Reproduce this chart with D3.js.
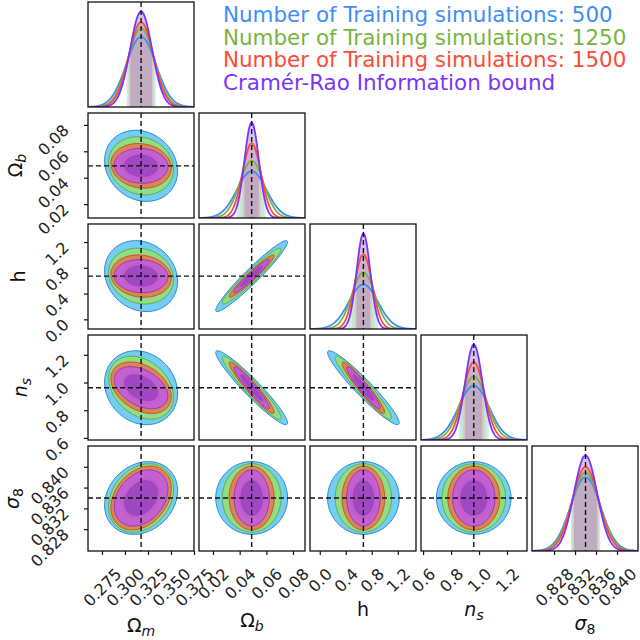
<!DOCTYPE html>
<html>
<head>
<meta charset="utf-8">
<script src="https://cdn.jsdelivr.net/npm/d3@7"></script>
<style>
body { margin: 0; background: #fff; }
svg { font-family: "DejaVu Sans", sans-serif; }
</style>
</head>
<body>
<script>
// parameters (row/column order of the corner plot)
const paramMain = ["Ω", "Ω", "h", "n", "σ"];
const paramSub = ["m", "b", "", "s", "8"];
const truth = [0.3175, 0.049, 0.6711, 0.9624, 0.834];
const domains = [[0.2598, 0.375], [0.0095, 0.089], [-0.15, 1.48], [0.585, 1.343], [0.8238, 0.844]];
const tickValues = [
    [0.275, 0.300, 0.325, 0.350, 0.375],
    [0.02, 0.04, 0.06, 0.08],
    [0.0, 0.4, 0.8, 1.2],
    [0.6, 0.8, 1.0, 1.2],
    [0.828, 0.832, 0.836, 0.840]
];
const tickFormats = [".3f", ".2f", ".1f", ".1f", ".3f"];

// runs: 1-sigma widths per parameter
const runNames = [
    "Number of Training simulations: 500",
    "Number of Training simulations: 1250",
    "Number of Training simulations: 1500",
    "Cramér-Rao Information bound"
];
const sigma500 = [0.0162, 0.0110, 0.225, 0.109, 0.00286];
const sigma1250 = [0.0144, 0.0090, 0.177, 0.093, 0.00269];
const sigma1500 = [0.0134, 0.0069, 0.134, 0.076, 0.00251];
const sigmaCRB = [0.0119, 0.0054, 0.105, 0.062, 0.00221];

// correlation for each lower-triangle pair [row, col]
const pairs = [[1, 0], [2, 0], [2, 1], [3, 0], [3, 1], [3, 2], [4, 0], [4, 1], [4, 2], [4, 3]];
const rho500 = [-0.15, -0.15, 0.96, -0.15, -0.95, -0.95, 0.20, 0, 0, 0];
const rho1250 = [-0.12, -0.12, 0.96, -0.30, -0.95, -0.95, 0.25, 0, 0, 0];
const rho1500 = [-0.10, -0.10, 0.96, -0.35, -0.95, -0.95, 0.30, 0, 0, 0];
const rhoCRB = [-0.05, -0.05, 0.96, -0.40, -0.95, -0.95, 0.30, 0, 0, 0];

const runs = [
    {sigma: sigma500, rho: rho500, line: "#3f8ef7", c95: "#5cc6f2", c68: "#3b8fd6", edge: "#2b88c4", band: "#a6d8f2"},
    {sigma: sigma1250, rho: rho1250, line: "#79b443", c95: "#94e070", c68: "#5eb24a", edge: "#66aa44", band: "#c2dfa8"},
    {sigma: sigma1500, rho: rho1500, line: "#fd4b36", c95: "#ec7448", c68: "#cc4a2c", edge: "#c9502e", band: "#e8b0a8"},
    {sigma: sigmaCRB, rho: rhoCRB, line: "#7a35fb", c95: "#c05ae8", c68: "#7d32b6", edge: "#8a3cc4", band: "#a88cc8"}
];

const width = 640, height = 640;
const padLeft = 88, padTop = 2, cellW = 106, cellH = 105, pitch = 111;
const n = truth.length;

const svg = d3.select("body").append("svg")
    .attr("width", width)
    .attr("height", height);

const defs = svg.append("defs");

function ellipsePoints(mx, my, sx, sy, rho, r) {
    return d3.range(0, 121).map(k => {
        const t = k / 120 * 2 * Math.PI;
        const c = Math.cos(t), s = Math.sin(t);
        return [mx + r * sx * c, my + r * sy * (rho * c + Math.sqrt(1 - rho * rho) * s)];
    });
}

const gauss = (v, m, s) => Math.exp(-0.5 * ((v - m) / s) ** 2) / (s * Math.sqrt(2 * Math.PI));

for (let i = 0; i < n; i++) {
    for (let j = 0; j <= i; j++) {
        const g = svg.append("g")
            .attr("transform", `translate(${padLeft + j * pitch},${padTop + i * pitch})`);

        const clipId = `clip-${i}-${j}`;
        defs.append("clipPath").attr("id", clipId)
            .append("rect").attr("width", cellW).attr("height", cellH);

        const x = d3.scaleLinear().domain(domains[j]).range([0, cellW]);
        const plot = g.append("g").attr("clip-path", `url(#${clipId})`);

        let y;
        if (i === j) {
            const peak = d3.max(runs, r => gauss(truth[i], truth[i], r.sigma[i]));
            y = d3.scaleLinear().domain([0, peak * 1.1]).range([cellH, 0]);
            const xs = d3.range(0, 301).map(k => domains[i][0] + k / 300 * (domains[i][1] - domains[i][0]));

            // 1-sigma shaded bands
            runs.forEach(r => {
                const s = r.sigma[i];
                const inBand = xs.filter(v => Math.abs(v - truth[i]) <= s);
                plot.append("path")
                    .attr("fill", r.band)
                    .attr("fill-opacity", 0.5)
                    .attr("d", d3.area()
                        .x(v => x(v))
                        .y0(cellH)
                        .y1(v => y(gauss(v, truth[i], s)))(inBand));
            });
            runs.forEach(r => {
                plot.append("path")
                    .attr("fill", "none")
                    .attr("stroke", r.line)
                    .attr("stroke-width", 1.8)
                    .attr("d", d3.line()
                        .x(v => x(v))
                        .y(v => y(gauss(v, truth[i], r.sigma[i])))(xs));
            });
            plot.append("line")
                .attr("x1", x(truth[i])).attr("x2", x(truth[i]))
                .attr("y1", 0).attr("y2", cellH)
                .attr("stroke", "#111").attr("stroke-width", 1.4)
                .attr("stroke-dasharray", "5,3");
        } else {
            y = d3.scaleLinear().domain(domains[i]).range([cellH, 0]);
            const p = pairs.findIndex(q => q[0] === i && q[1] === j);
            const line = d3.line().x(d => x(d[0])).y(d => y(d[1])).curve(d3.curveLinearClosed);
            runs.forEach(r => {
                const sx = r.sigma[j], sy = r.sigma[i], rho = r.rho[p];
                plot.append("path")
                    .attr("fill", r.c95).attr("fill-opacity", 0.85)
                    .attr("stroke", r.edge).attr("stroke-width", 1)
                    .attr("d", line(ellipsePoints(truth[j], truth[i], sx, sy, rho, Math.sqrt(5.99))));
                plot.append("path")
                    .attr("fill", r.c68).attr("fill-opacity", 0.5)
                    .attr("stroke", r.edge).attr("stroke-opacity", 0.6).attr("stroke-width", 0.8)
                    .attr("d", line(ellipsePoints(truth[j], truth[i], sx, sy, rho, Math.sqrt(2.30))));
            });
            plot.append("line")
                .attr("x1", x(truth[j])).attr("x2", x(truth[j]))
                .attr("y1", 0).attr("y2", cellH)
                .attr("stroke", "#111").attr("stroke-width", 1.4)
                .attr("stroke-dasharray", "5,3");
            plot.append("line")
                .attr("x1", 0).attr("x2", cellW)
                .attr("y1", y(truth[i])).attr("y2", y(truth[i]))
                .attr("stroke", "#111").attr("stroke-width", 1.4)
                .attr("stroke-dasharray", "5,3");
        }

        g.append("rect")
            .attr("width", cellW).attr("height", cellH)
            .attr("fill", "none").attr("stroke", "#111").attr("stroke-width", 1.3);

        // bottom row x axis
        if (i === n - 1) {
            const ax = g.append("g")
                .attr("transform", `translate(0,${cellH})`)
                .call(d3.axisBottom(x).tickValues(tickValues[j]).tickSize(4)
                    .tickFormat(d3.format(tickFormats[j])));
            ax.select(".domain").remove();
            ax.selectAll(".tick line").attr("stroke", "#111").attr("stroke-width", 1.2);
            ax.selectAll(".tick text")
                .attr("font-size", 16).attr("fill", "#222")
                .attr("font-family", "DejaVu Sans")
                .attr("text-anchor", "middle")
                .attr("dominant-baseline", "central")
                .attr("dy", null).attr("y", 0)
                .attr("transform", function () {
                    const len = this.getComputedTextLength();
                    return `translate(0,${16 + (len + 12) * 0.3536}) rotate(-45)`;
                });
        }
        // left column y axis
        if (j === 0 && i > 0) {
            const ay = g.append("g")
                .call(d3.axisLeft(y).tickValues(tickValues[i]).tickSize(4)
                    .tickFormat(d3.format(tickFormats[i])));
            ay.select(".domain").remove();
            ay.selectAll(".tick line").attr("stroke", "#111").attr("stroke-width", 1.2);
            ay.selectAll(".tick text")
                .attr("font-size", 16).attr("fill", "#222")
                .attr("font-family", "DejaVu Sans")
                .attr("text-anchor", "end")
                .attr("dy", null).attr("x", 0)
                .attr("transform", "translate(-18,6) rotate(-45)");
        }
    }
}

// axis labels
function label(sel, k) {
    const italicMain = (k === 3 || k === 4);
    sel.append("tspan")
        .attr("font-style", italicMain ? "italic" : "normal")
        .text(paramMain[k]);
    if (paramSub[k]) {
        sel.append("tspan")
            .attr("font-size", 14)
            .attr("dy", 4)
            .attr("font-style", k === 4 ? "normal" : "italic")
            .text(paramSub[k]);
    }
}

const xLabelBase = [632, 627, 616, 616, 630];
for (let k = 0; k < n; k++) {
    const t = svg.append("text")
        .attr("x", padLeft + k * pitch + cellW / 2)
        .attr("y", xLabelBase[k])
        .attr("text-anchor", "middle")
        .attr("font-size", 19)
        .attr("fill", "#111");
    label(t, k);
}
const yLabelBase = [0, 22, 25, 27, 19];
for (let k = 1; k < n; k++) {
    const cy = padTop + k * pitch + cellH / 2;
    const t = svg.append("text")
        .attr("transform", `translate(${yLabelBase[k]},${cy}) rotate(-90)`)
        .attr("text-anchor", "middle")
        .attr("font-size", 19)
        .attr("fill", "#111");
    label(t, k);
}

// legend: size the font so the first entry spans ~390px like the original
const legend = svg.append("g").attr("transform", "translate(223,22)");
const probe = legend.append("text").attr("font-size", 20).text(runNames[0]);
const legendSize = 20 * 390 / probe.node().getComputedTextLength();
probe.remove();
runNames.forEach((name, k) => {
    legend.append("text")
        .attr("y", k * 22.5)
        .attr("font-size", legendSize)
        .attr("fill", runs[k].line)
        .text(name);
});
</script>
</body>
</html>
